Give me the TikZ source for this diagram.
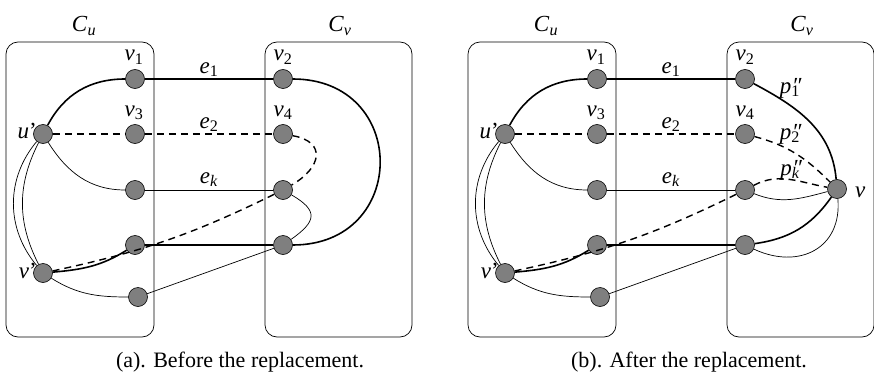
\documentclass[tikz,border=0pt]{standalone}
\usepackage{fontspec}
\setmainfont{Liberation Serif}
\definecolor{ngray}{HTML}{7F7F7F}
\newcommand\sub[2]{\textit{#1}\textsubscript{#2}}
\newcommand\ppr[1]{\textit{p}\rlap{\kern0.5pt\textit{″}}\textsubscript{#1}}
\newcommand\commonpart[1]{%
  \draw[box] (6,44) rectangle (154,339);
  \draw[box] (265,44) rectangle (412,339);
  \node[vert] (#1up) at (43,247) {};
  \node[vert] (#1vp) at (43,108) {};
  \node[vert] (#1a1) at (135,302) {};
  \node[vert] (#1a3) at (135,247) {};
  \node[vert] (#1a5) at (135,191) {};
  \node[vert] (#1a7) at (135,136) {};
  \node[vert] (#1a9) at (138,84) {};
  \node[vert] (#1b2) at (283,302) {};
  \node[vert] (#1b4) at (283,247) {};
  \node[vert] (#1b6) at (283,191) {};
  \node[vert] (#1b8) at (283,136) {};
  \node[lab,anchor=base] (#1Cu) at (84,349) {\sub{C}{\textit{u}}};
  \node[lab,anchor=base] (#1Cv) at (340,349) {\sub{C}{\textit{v}}};
  \node[lab,anchor=base] (#1lv1) at (134,320) {\sub{v}{1}};
  \node[lab,anchor=base] (#1lv3) at (134,265) {\sub{v}{3}};
  \node[lab,anchor=base] (#1lv2) at (283,320) {\sub{v}{2}};
  \node[lab,anchor=base] (#1lv4) at (283,265) {\sub{v}{4}};
  \node[lab,anchor=base] (#1le1) at (209,308) {\sub{e}{1}};
  \node[lab,anchor=base] (#1le2) at (209,253) {\sub{e}{2}};
  \node[lab,anchor=base] (#1lek) at (209,198) {\sub{e}{\textit{k}}};
  \node[lab,anchor=base east] (#1lu) at (37,243) {\textit{u}’};
  \node[lab,anchor=base east] (#1lv) at (37,103) {\textit{v}’};
  \draw[thk] (#1up) to[out=62,in=180] (#1a1);
  \draw[thk] (#1a1) -- (#1b2);
  \draw[dsh] (#1up) -- (#1a3);
  \draw[dsh] (#1a3) -- (#1b4);
  \draw[thn] (#1up) to[out=-58,in=180] (#1a5);
  \draw[thn] (#1a5) -- (#1b6);
  \draw[dsh] (#1vp) to[bend right=7] (#1b6);
  \draw[thk] (#1vp) to[out=5,in=212] (#1a7);
  \draw[thk] (#1a7) -- (#1b8);
  \draw[thn] (#1vp) to[out=-32,in=180] (#1a9);
  \draw[thn] (#1a9) -- (#1b8);
  \draw[thn] (#1up) to[bend right=40] (#1vp);
  \draw[thn] (#1up) to[bend right=27] (#1vp);
}
\begin{document}
\begin{tikzpicture}[x=1pt,y=1pt,
  vert/.style={circle,draw=black,line width=0.6pt,fill=ngray,minimum size=19pt,inner sep=0pt},
  box/.style={draw=black,line width=0.7pt,rounded corners=12pt},
  thk/.style={line width=1.6pt},
  thn/.style={line width=0.7pt},
  dsh/.style={line width=1.4pt,dash pattern=on 7pt off 5pt},
  lab/.style={font=\fontsize{23}{25}\selectfont,inner sep=0pt},
  captext/.style={font=\fontsize{22}{24}\selectfont,inner sep=0pt,anchor=base}]
\useasboundingbox (0,0) rectangle (874,381);
% panel (a)
\commonpart{A}
\draw[thk] (Ab2) to[out=0,in=0,looseness=1.8] (Ab8);
\draw[dsh] (Ab4) to[out=-10,in=30,looseness=1.8] (Ab6);
\draw[thn] (Ab6) to[out=-30,in=35,looseness=1.8] (Ab8);
\node[captext] (capa) at (240,14) {(a). Before the replacement.};
% panel (b)
\begin{scope}[xshift=462pt]
\commonpart{B}
\node[vert] (Bv) at (375,192) {};
\node[lab,anchor=base west] (Blv) at (393,184) {\textit{v}};
\draw[thk] (Bb2) to[out=-28,in=95] (Bv);
\draw[dsh] (Bb4) to[out=-15,in=135] (Bv);
\draw[dsh] (Bb6) to[out=28,in=170] (Bv);
\draw[thn] (Bb6) to[out=-22,in=195] (Bv);
\draw[thk] (Bb8) to[out=8,in=235] (Bv);
\draw[thn] (Bb8) to[out=-25,in=-85,looseness=1.3] (Bv);
\node[lab,anchor=center] (Bp1) at (328,293) {\ppr{1}};
\node[lab,anchor=center] (Bp2) at (328,247) {\ppr{2}};
\node[lab,anchor=center] (Bpk) at (328,211) {\ppr{\textit{k}}};
\node[captext] (capb) at (227,14) {(b). After the replacement.};
\end{scope}
\end{tikzpicture}
\end{document}
